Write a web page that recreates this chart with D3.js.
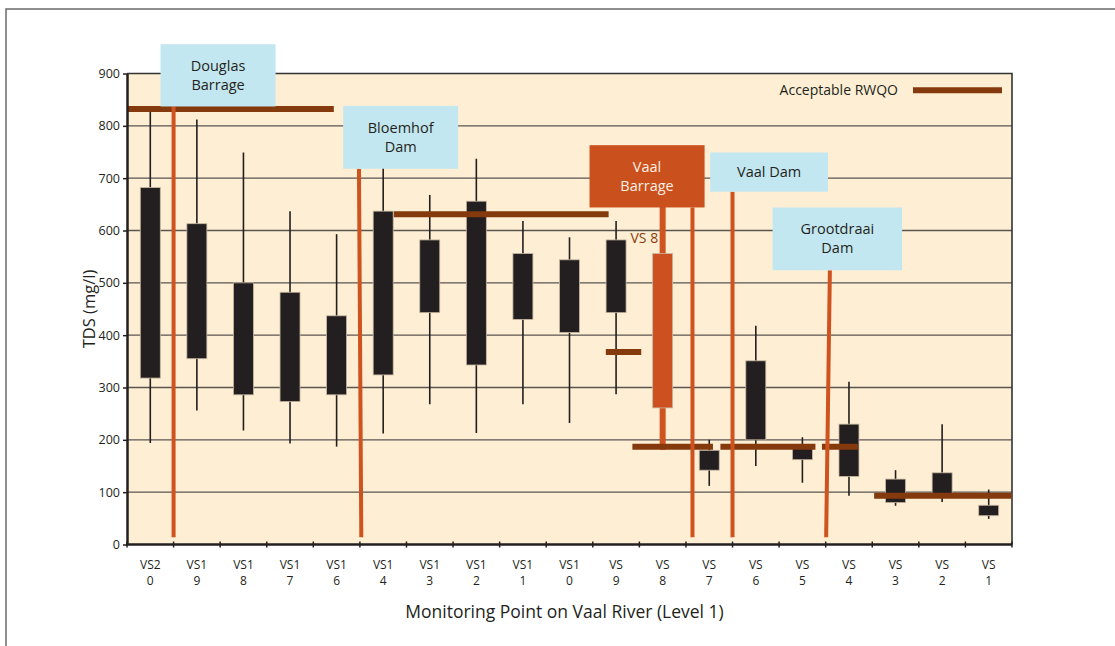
<!DOCTYPE html>
<html>
<head>
<meta charset="utf-8">
<script src="https://cdn.jsdelivr.net/npm/d3@7"></script>
<style>
  body { margin: 0; background: #fff; }
  text { font-family: "Open Sans", sans-serif; fill: #231f20; }
</style>
</head>
<body>
<div id="chart"></div>
<script>
// monitoring points on the Vaal river, in the order of the figure
var categories = ['VS20', 'VS19', 'VS18', 'VS17', 'VS16', 'VS14', 'VS13', 'VS12', 'VS11', 'VS10',
  'VS9', 'VS8', 'VS7', 'VS6', 'VS5', 'VS4', 'VS3', 'VS2', 'VS1'];
var tickLine1 = ['VS2', 'VS1', 'VS1', 'VS1', 'VS1', 'VS1', 'VS1', 'VS1', 'VS1', 'VS1',
  'VS', 'VS', 'VS', 'VS', 'VS', 'VS', 'VS', 'VS', 'VS'];
var tickLine2 = ['0', '9', '8', '7', '6', '4', '3', '2', '1', '0',
  '9', '8', '7', '6', '5', '4', '3', '2', '1'];

// TDS (mg/l)
var whiskerLow = [194, 256, 218, 193, 187, 212, 268, 213, 268, 232, 287, 181, 112, 150, 118, 93, 74, 81, 49];
var boxLow = [318, 355, 286, 273, 286, 324, 443, 343, 430, 405, 443, 261, 142, 200, 162, 130, 80, 95, 55];
var boxHigh = [682, 613, 500, 482, 437, 637, 582, 656, 556, 544, 582, 556, 180, 351, 188, 230, 125, 137, 75];
var whiskerHigh = [837, 812, 749, 637, 593, 725, 668, 737, 618, 587, 618, 645, 200, 418, 205, 311, 142, 230, 105];

var yTicks = [0, 100, 200, 300, 400, 500, 600, 700, 800, 900];

// acceptable RWQO, each segment runs between two positions along the axis (0 = VS20)
var rwqoFrom = [-0.5, 5.23, 9.78, 10.35, 12.24, 14.42, 15.54];
var rwqoTo = [3.94, 9.84, 10.54, 12.08, 14.28, 15.19, 18.49];
var rwqoValue = [832, 631, 368, 187, 187, 187, 93];

var siteNames = [['Douglas', 'Barrage'], ['Bloemhof', 'Dam'], ['Vaal', 'Barrage'], ['Vaal Dam'], ['Grootdraai', 'Dam']];

var highlight = 'VS8';

width = 1115;
height = 646;
margin = { top: 73.5, right: 103, bottom: 101.5, left: 127 };

var brown = '#843a0c';
var orange = '#cf531f';
var blue = '#c3e7f1';

// label boxes for the dams, placed in axis units (position / TDS)
var siteLayout = [
  { x0: 0.22, x1: 2.69, top: 956, bottom: 837, p0: 0.5, p1: 0.5, fill: blue, ink: '#231f20' },
  { x0: 4.14, x1: 6.61, top: 838, bottom: 718, p0: 4.48, p1: 4.53, fill: blue, ink: '#231f20' },
  { x0: 9.43, x1: 11.9, top: 763, bottom: 644, p0: 11.64, p1: 11.64, fill: '#ca501d', ink: '#fdf0e4' },
  { x0: 12.02, x1: 14.55, top: 749, bottom: 674, p0: 12.5, p1: 12.5, fill: blue, ink: '#231f20' },
  { x0: 13.36, x1: 16.14, top: 644, bottom: 524, p0: 14.59, p1: 14.51, fill: blue, ink: '#231f20' }
];

x = d3.scaleBand()
  .domain(categories)
  .range([margin.left, width - margin.right])
  .padding(0);

// same axis as a continuous scale, for things that sit between the points
xi = d3.scaleLinear()
  .domain([-0.5, categories.length - 0.5])
  .range([margin.left, width - margin.right]);

y = d3.scaleLinear()
  .domain([0, 900])
  .range([height - margin.bottom, margin.top]);

var boxW = 20;

var svg = d3.select('#chart')
  .append('svg')
  .attr('width', width)
  .attr('height', height);

// outer frame
svg.append('rect')
  .attr('x', 6).attr('y', 9)
  .attr('width', width + 20).attr('height', height + 20)
  .attr('fill', 'none')
  .attr('stroke', '#6b6b6b')
  .attr('stroke-width', 1.5);

// plot background
svg.append('rect')
  .attr('x', margin.left).attr('y', margin.top)
  .attr('width', width - margin.left - margin.right)
  .attr('height', height - margin.top - margin.bottom)
  .attr('fill', '#feefd4');

// grid
svg.append('g')
  .selectAll('line')
  .data(yTicks.slice(1, -1))
  .join('line')
  .attr('x1', margin.left).attr('x2', width - margin.right)
  .attr('y1', (d) => y(d)).attr('y2', (d) => y(d))
  .attr('stroke', '#5a5550')
  .attr('stroke-width', 1.3);

// plot border (top and right)
svg.append('path')
  .attr('d', `M${margin.left},${y(900)}H${width - margin.right}V${y(0)}`)
  .attr('fill', 'none')
  .attr('stroke', '#333')
  .attr('stroke-width', 1.6);

var rows = categories.map((c, i) => ({
  name: c, i: i,
  wl: whiskerLow[i], bl: boxLow[i], bh: boxHigh[i], wh: whiskerHigh[i]
}));

var cx = (d) => x(d.name) + x.bandwidth() / 2;

// whiskers
svg.append('g')
  .selectAll('line')
  .data(rows)
  .join('line')
  .attr('x1', cx).attr('x2', cx)
  .attr('y1', (d) => y(d.wh)).attr('y2', (d) => y(d.wl))
  .attr('stroke', (d) => (d.name == highlight ? orange : '#231f20'))
  .attr('stroke-width', (d) => (d.name == highlight ? 6 : 1.6));

// boxes
svg.append('g')
  .selectAll('rect')
  .data(rows)
  .join('rect')
  .attr('x', (d) => cx(d) - boxW / 2)
  .attr('width', boxW)
  .attr('y', (d) => y(d.bh))
  .attr('height', (d) => y(d.bl) - y(d.bh))
  .attr('fill', (d) => (d.name == highlight ? '#cc5020' : '#231f20'))
  .attr('stroke', '#c9b9a3')
  .attr('stroke-width', 0.8);

// RWQO segments
svg.append('g')
  .selectAll('line')
  .data(rwqoValue.map((v, i) => ({ from: rwqoFrom[i], to: rwqoTo[i], v: v })))
  .join('line')
  .attr('x1', (d) => xi(d.from)).attr('x2', (d) => xi(d.to))
  .attr('y1', (d) => y(d.v)).attr('y2', (d) => y(d.v))
  .attr('stroke', brown)
  .attr('stroke-width', 6);

// VS 8 note
svg.append('text')
  .attr('x', xi(10.31))
  .attr('y', y(586))
  .attr('dy', '0.35em')
  .attr('font-size', 14)
  .style('fill', '#8a3c10')
  .text('VS 8');

// pointer lines from the dam labels down to the axis
svg.append('g')
  .selectAll('line')
  .data(siteLayout)
  .join('line')
  .attr('x1', (d) => xi(d.p0)).attr('y1', (d) => y(d.bottom))
  .attr('x2', (d) => xi(d.p1)).attr('y2', y(14))
  .attr('stroke', orange)
  .attr('stroke-width', 4);

// dam labels
var site = svg.append('g')
  .selectAll('g')
  .data(siteLayout)
  .join('g');

site.append('rect')
  .attr('x', (d) => xi(d.x0))
  .attr('y', (d) => y(d.top))
  .attr('width', (d) => xi(d.x1) - xi(d.x0))
  .attr('height', (d) => y(d.bottom) - y(d.top))
  .attr('fill', (d) => d.fill);

site.each(function (d, k) {
  var lines = siteNames[k];
  var mid = (y(d.top) + y(d.bottom)) / 2;
  d3.select(this)
    .selectAll('text')
    .data(lines)
    .join('text')
    .attr('x', (xi(d.x0) + xi(d.x1)) / 2)
    .attr('y', (t, j) => mid + (j - (lines.length - 1) / 2) * 19)
    .attr('dy', '0.35em')
    .attr('text-anchor', 'middle')
    .attr('font-size', 14.5)
    .style('fill', d.ink)
    .text((t) => t);
});

// y axis
svg.append('g')
  .attr('transform', `translate(${margin.left},0)`)
  .call(d3.axisLeft(y).tickValues(yTicks).tickSize(4).tickSizeOuter(0))
  .call((g) => g.select('.domain').attr('stroke', '#231f20').attr('stroke-width', 2.5))
  .call((g) => g.selectAll('.tick line').attr('stroke', '#231f20').attr('stroke-width', 1.5))
  .call((g) => g.selectAll('.tick text')
    .attr('font-size', 12.5)
    .attr('font-family', '"Open Sans", sans-serif')
    .attr('x', -7)
    .style('fill', '#231f20'));

// x axis: ticks sit between the points
var xAxis = svg.append('g');
xAxis.append('line')
  .attr('x1', margin.left - 1).attr('x2', width - margin.right)
  .attr('y1', y(0)).attr('y2', y(0))
  .attr('stroke', '#231f20')
  .attr('stroke-width', 2.5);
xAxis.selectAll('.xtick')
  .data(d3.range(categories.length + 1))
  .join('line')
  .attr('class', 'xtick')
  .attr('x1', (i) => xi(i - 0.5)).attr('x2', (i) => xi(i - 0.5))
  .attr('y1', y(0) - 3).attr('y2', y(0) + 3)
  .attr('stroke', '#231f20')
  .attr('stroke-width', 1.5);

var lab = xAxis.selectAll('.xlab')
  .data(rows)
  .join('text')
  .attr('class', 'xlab')
  .attr('x', cx)
  .attr('text-anchor', 'middle')
  .attr('font-size', 12);
lab.append('tspan').attr('x', cx).attr('y', y(0) + 24).text((d) => tickLine1[d.i]);
lab.append('tspan').attr('x', cx).attr('y', y(0) + 40).text((d) => tickLine2[d.i]);

// axis titles
svg.append('text')
  .attr('x', (margin.left + width - margin.right) / 2 - 5)
  .attr('y', 618)
  .attr('text-anchor', 'middle')
  .attr('font-size', 17.5)
  .text('Monitoring Point on Vaal River (Level 1)');

svg.append('text')
  .attr('transform', `translate(95,${(margin.top + height - margin.bottom) / 2}) rotate(-90)`)
  .attr('text-anchor', 'middle')
  .attr('font-size', 16.5)
  .text('TDS (mg/l)');

// legend
svg.append('text')
  .attr('x', width - margin.right - 114)
  .attr('y', y(868))
  .attr('dy', '0.35em')
  .attr('text-anchor', 'end')
  .attr('font-size', 14)
  .text('Acceptable RWQO');
svg.append('line')
  .attr('x1', width - margin.right - 99).attr('x2', width - margin.right - 10)
  .attr('y1', y(868)).attr('y2', y(868))
  .attr('stroke', brown)
  .attr('stroke-width', 6);
</script>
</body>
</html>
